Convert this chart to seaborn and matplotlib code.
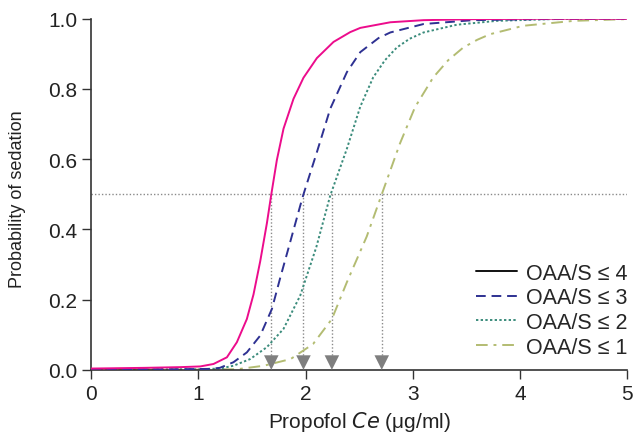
import matplotlib
matplotlib.use("Agg")
import matplotlib.pyplot as plt
from matplotlib.lines import Line2D
import seaborn as sns

sns.set_style("ticks")
plt.rcParams['font.family'] = ['Liberation Sans', 'DejaVu Sans']

labels = ["OAA/S \u2264 4", "OAA/S \u2264 3", "OAA/S \u2264 2", "OAA/S \u2264 1"]

x4 = [0, 0.5, 0.83, 1.017, 1.141, 1.266, 1.359, 1.452, 1.514, 1.577, 1.639, 1.68, 1.732, 1.794, 1.887, 1.98, 2.105, 2.26, 2.416, 2.51, 2.79, 3.1, 3.6, 4.2, 5.0]
y4 = [0.004, 0.006, 0.008, 0.010, 0.017, 0.036, 0.079, 0.145, 0.215, 0.31, 0.418, 0.50, 0.598, 0.687, 0.772, 0.832, 0.888, 0.934, 0.962, 0.974, 0.990, 0.996, 0.999, 1.0, 1.0]

x3 = [0, 0.8, 1.10, 1.20, 1.327, 1.452, 1.577, 1.686, 1.763, 1.856, 1.95, 1.98, 2.105, 2.23, 2.385, 2.51, 2.68, 2.79, 3.10, 3.56, 4.2, 5.0]
y3 = [0.002, 0.002, 0.003, 0.006, 0.022, 0.050, 0.098, 0.174, 0.262, 0.364, 0.468, 0.50, 0.62, 0.744, 0.848, 0.905, 0.945, 0.961, 0.985, 0.996, 0.999, 1.0]

x2 = [0, 1.0, 1.20, 1.327, 1.483, 1.639, 1.794, 1.95, 2.10, 2.23, 2.385, 2.51, 2.63, 2.74, 2.85, 2.97, 3.10, 3.41, 3.78, 4.3, 5.0]
y2 = [0.001, 0.002, 0.004, 0.012, 0.031, 0.065, 0.117, 0.212, 0.350, 0.497, 0.63, 0.75, 0.833, 0.882, 0.918, 0.943, 0.961, 0.983, 0.994, 0.999, 1.0]

x1 = [0, 1.0, 1.36, 1.61, 1.86, 2.07, 2.245, 2.385, 2.57, 2.71, 2.88, 3.02, 3.19, 3.33, 3.47, 3.60, 3.72, 4.03, 4.50, 5.0]
y1 = [0.0, 0.001, 0.002, 0.012, 0.031, 0.074, 0.145, 0.25, 0.38, 0.50, 0.645, 0.748, 0.833, 0.882, 0.918, 0.940, 0.956, 0.980, 0.994, 0.999]

ec50 = [1.68, 1.98, 2.245, 2.71]

colors = ["#EC0C8C", "#2E3192", "#3B8C7C", "#B3BC72"]
styles = ["-", (0, (5, 3)), (0, (1.2, 1.2)), (0, (6, 3, 1.5, 3))]

fig = plt.figure(figsize=(6.33, 4.39), dpi=100)
ax = fig.add_axes([0.144, 0.155, 0.847, 0.80])

# reference lines
ax.axhline(0.5, color="#8a8a8a", lw=1.0, ls=(0, (1, 1.5)), zorder=1)
for xv in ec50:
    ax.plot([xv, xv], [0.5, 0.035], color="#8a8a8a", lw=1.0, ls=(0, (1, 1.5)), zorder=1)
sns.scatterplot(x=ec50, y=[0.021] * 4, marker="v", s=110, color="#7f7f7f",
                edgecolor="none", ax=ax, zorder=3)

series = [(x4, y4), (x3, y3), (x2, y2), (x1, y1)]
for i, (xs, ys) in enumerate(series):
    sns.lineplot(x=xs, y=ys, color=colors[i], lw=1.4, ax=ax, zorder=4 - i,
                 estimator=None, sort=False)
    ax.lines[-1].set_linestyle(styles[i])

ax.set_xlim(0, 5)
ax.set_ylim(0, 1.0)
ax.set_xticks([0, 1, 2, 3, 4, 5])
ax.set_yticks([0, 0.2, 0.4, 0.6, 0.8, 1.0])
ax.set_yticklabels(["0.0", "0.2", "0.4", "0.6", "0.8", "1.0"])
ax.tick_params(labelsize=15, length=6.5, width=1.0, colors="#333333", labelcolor="#222222")
for s in ["top", "right"]:
    ax.spines[s].set_visible(False)
for s in ["left", "bottom"]:
    ax.spines[s].set_color("#333333")
    ax.spines[s].set_linewidth(1.2)

ax.set_xlabel("Propofol $\\it{Ce}$ (\u03bcg/ml)", fontsize=15, color="#222222")
ax.set_ylabel("Probability of sedation", fontsize=13, color="#222222")
ax.xaxis.set_label_coords(0.5, -0.112)
ax.yaxis.set_label_coords(-0.122, 0.49)

handles = [Line2D([], [], color="#111111" if i == 0 else colors[i], lw=1.4, ls=styles[i])
           for i in range(4)]
ax.legend(handles, labels, loc="lower right", bbox_to_anchor=(1.0, 0.035), frameon=False,
          fontsize=15.5, handlelength=1.9, handletextpad=0.4, labelspacing=0.17,
          borderpad=0, borderaxespad=0)

fig.savefig("out.png", dpi=100)
